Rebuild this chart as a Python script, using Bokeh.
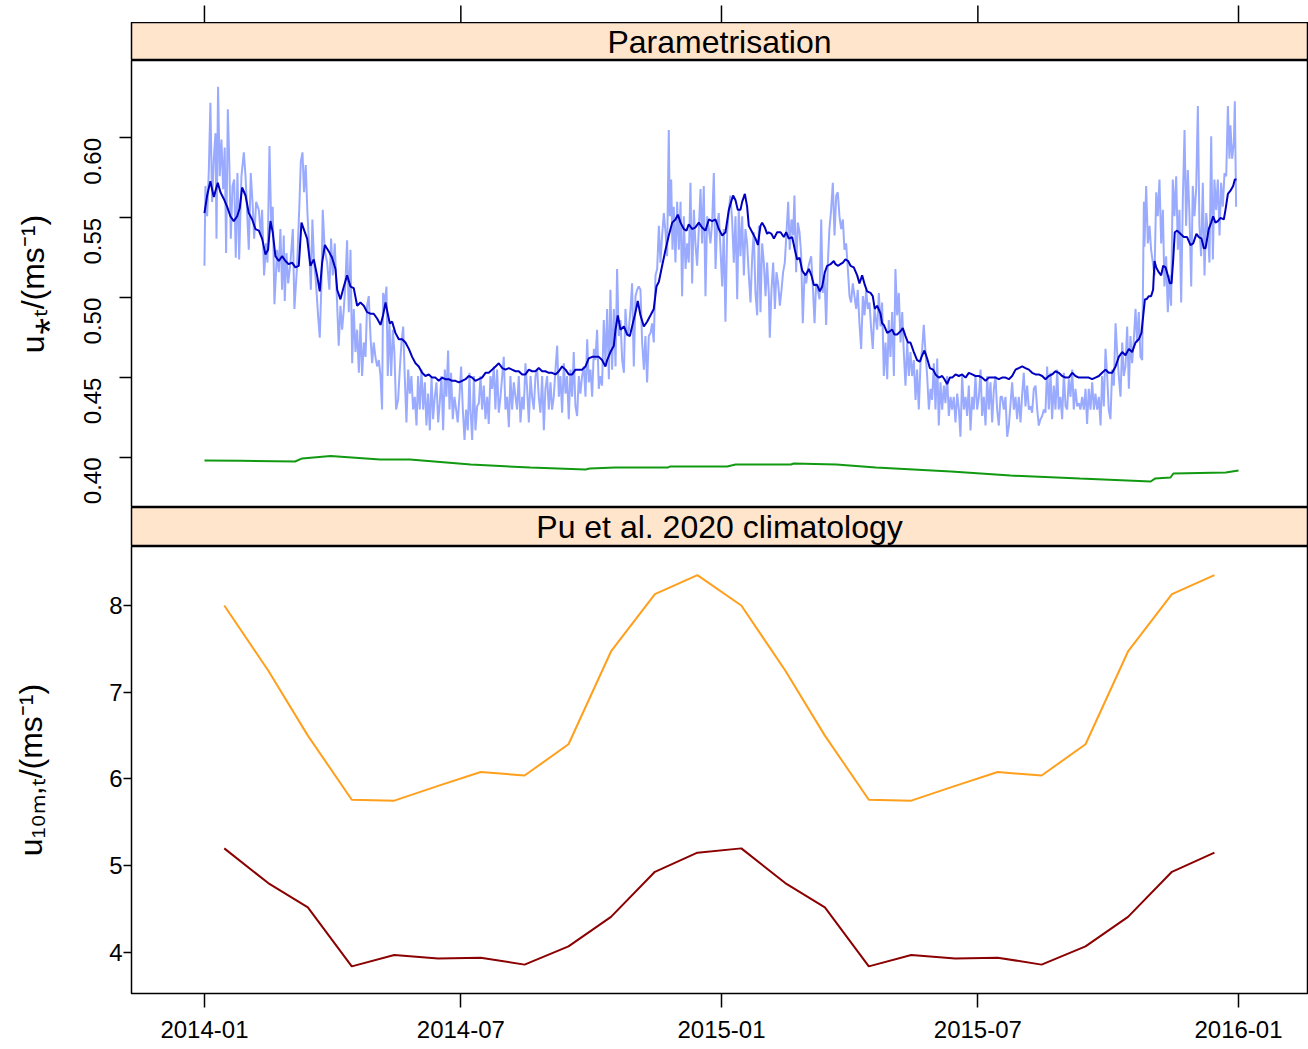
import math
import pandas as pd
from bokeh.plotting import figure
from bokeh.layouts import column
from bokeh.models import Range1d, FixedTicker, DatetimeTickFormatter, PrintfTickFormatter
from bokeh.core.properties import value
from bokeh.embed import file_html
from bokeh.resources import INLINE

# ---------------- data (days since 2014-01-01) ----------------
light_days = [
    0.0, 0.7, 1.9, 3.1, 4.2, 5.4, 6.6, 7.8, 8.5, 9.6, 10.8, 12.0, 13.2, 14.3, 15.3, 16.5, 17.6, 18.6, 19.8, 21.0,
    22.1, 23.3, 24.5, 26.1, 27.8, 29.0, 31.3, 32.7, 34.1, 35.1, 36.5, 38.4, 39.8, 40.7, 42.1, 43.5, 44.5, 45.9, 47.1, 48.2,
    49.4, 51.3, 52.5, 53.6, 54.8, 56.0, 56.7, 57.9, 59.1, 60.7, 62.4, 63.5, 65.4, 67.1, 68.0, 69.2, 70.3, 71.5, 72.7, 73.9,
    75.1, 76.2, 77.4, 78.6, 80.2, 81.4, 82.6, 83.5, 84.9, 86.6, 88.2, 89.4, 90.6, 92.0,
    94.8, 96.0, 97.2, 98.4, 99.5, 100.7, 101.9, 103.1, 104.3, 105.4, 106.6, 107.8, 109.0, 110.1, 111.3, 112.5, 113.7, 114.8, 116.0, 117.2,
    118.4, 119.5, 120.7, 121.9, 123.1, 124.3, 125.4, 126.1, 127.3, 128.5, 129.4, 130.6, 131.8, 133.0, 134.1, 135.3, 136.7, 137.9, 139.1, 140.3,
    141.4, 142.6, 143.8, 145.0, 146.1, 147.3, 148.5, 149.7, 150.8, 152.0, 153.2, 154.4, 155.6, 156.7, 157.9, 159.1, 160.3, 161.4, 162.6, 163.8,
    165.0, 166.1, 167.3, 168.5, 169.7, 170.8, 172.0, 173.0, 174.1, 175.3, 176.5, 177.7, 178.8, 180.0, 181.2, 182.4, 183.6, 184.7, 185.9, 187.1,
    187.8, 189.0, 190.2, 191.3, 192.5, 193.7, 194.9, 196.0, 197.2, 198.4, 199.6, 200.7, 201.9, 203.1, 204.3, 205.4, 206.6, 207.8, 209.0, 210.2,
    211.3, 212.5, 213.7, 214.9, 216.0, 217.2, 218.4, 219.6, 220.7, 221.9, 223.1, 224.3, 225.4, 226.6, 227.8, 229.0, 230.2, 231.3, 232.5, 233.7,
    234.9, 236.0, 237.2, 238.4, 239.6, 240.7, 241.9, 243.1, 244.3, 245.4, 246.6, 247.8, 249.0, 250.2, 251.3, 252.5, 253.7, 254.9, 256.0, 257.2,
    258.4, 259.6, 260.7, 261.9, 263.1, 264.3, 265.4, 266.6, 267.8, 269.0, 270.2, 271.3, 272.5, 273.7, 274.9, 276.0, 277.2, 278.4, 279.6, 280.7,
    281.9,
    283.1, 284.3, 285.5, 286.6, 287.8, 289.0, 290.2, 291.3, 292.5, 293.7, 294.9, 296.1, 297.2, 298.4, 299.6, 300.8, 301.9, 303.1, 304.3, 305.5,
    306.6, 307.8, 309.0, 310.2, 311.3, 312.5, 313.7, 314.9, 316.0, 317.2, 318.4, 319.6, 320.8, 321.9, 323.1, 324.3, 325.5, 326.6, 327.8, 328.5,
    329.5, 330.4, 331.3, 332.5, 333.7, 334.9, 336.1, 337.2, 338.4, 339.6, 340.8, 341.9, 343.1, 344.3, 345.5, 346.6, 347.8, 349.0, 350.2, 351.3,
    352.5, 353.7, 354.9, 356.1, 357.2, 358.4, 359.6, 360.8, 361.9, 363.1, 364.3, 365.5, 366.6, 367.8, 369.0, 370.2, 371.3, 372.5, 373.7, 374.9,
    376.1, 377.2,
    378.4, 379.6, 380.8, 381.9, 383.1, 384.3, 385.5, 386.7, 387.8, 389.0, 390.2, 391.4, 392.5, 393.7, 394.9, 396.1, 397.2, 398.4, 399.1, 400.3,
    401.5, 402.7, 403.8, 405.0, 406.2, 407.4, 408.5, 409.7, 410.9, 412.1, 413.2, 414.4, 415.6, 416.5, 417.7, 418.9, 420.1, 421.2, 422.4, 423.6,
    424.8, 426.0, 427.1, 428.3, 429.5, 430.7, 431.8, 433.0, 434.2, 435.4, 436.5, 437.7, 438.9, 440.1, 441.2, 442.4, 443.6, 444.8, 446.0, 447.1,
    448.3, 449.5, 450.7, 451.8, 453.0, 454.2, 455.4, 456.5, 457.7, 458.9, 460.1, 461.2, 462.4, 463.6, 464.8, 466.0, 467.1, 468.3, 469.5, 470.7,
    471.8, 473.0,
    474.9, 476.1, 477.3, 478.4, 479.6, 480.8, 482.0, 483.1, 484.3, 485.5, 486.7, 487.8, 489.0, 490.2, 491.4, 492.6, 493.7, 494.9, 496.1, 497.3,
    498.4, 499.6, 500.8, 502.0, 503.1, 504.3, 505.5, 506.7, 507.8, 509.0, 510.2, 511.4, 512.6, 513.7, 514.9, 516.1, 517.3, 518.4, 519.6, 520.8,
    522.0, 523.1, 524.3, 525.5, 526.7, 527.8, 529.0, 530.2, 531.4, 532.6, 533.7, 534.9, 536.1, 537.3, 538.4, 539.6, 540.8, 542.0, 543.1, 544.3,
    545.5, 546.7, 547.9, 549.0, 550.2, 551.4, 552.6, 553.7, 554.9, 556.1, 557.3, 558.4, 559.6, 560.8, 562.0, 563.1, 564.3, 565.5, 566.7, 567.9,
    570.2, 571.4, 572.6, 573.7, 574.9, 576.1, 577.3, 578.4, 579.6, 580.8, 582.0, 583.1, 584.3, 585.5, 586.7, 587.9, 589.0, 590.2, 591.4, 592.6,
    593.7, 594.9, 596.1, 597.3, 598.4, 599.6, 600.8, 602.0, 603.1, 604.3, 605.5, 606.7, 607.9, 609.0, 610.2, 611.4, 612.6, 613.7, 614.9, 616.1,
    617.3, 618.4, 619.6, 620.8, 622.0, 623.1, 624.3, 625.5, 626.7, 627.9, 629.0, 630.2, 631.4, 632.6, 633.7, 634.9, 636.1, 637.3, 638.4, 639.6,
    640.8, 642.0, 643.2, 644.3, 645.5, 646.7, 647.9, 649.0, 650.2, 651.4, 652.6, 653.7, 654.9, 656.1, 657.3, 658.4, 659.6, 660.8, 662.0, 663.2,
    663.6, 664.8, 666.0, 667.2, 668.3, 669.5, 670.7, 671.9, 673.0, 674.2, 675.4, 676.6, 677.7, 678.9, 680.1, 681.3, 682.4, 683.6, 684.8, 686.0,
    687.2, 688.3, 689.5, 690.7, 691.9, 693.0, 694.2, 695.4, 696.6, 697.7, 698.9, 700.1, 701.3, 702.4, 703.6, 704.8, 706.0, 707.2, 708.3, 709.5,
    710.7, 711.9, 713.0, 714.2, 715.4, 716.6, 717.7, 718.9, 720.1, 721.3, 722.5, 723.6, 724.3, 725.5, 726.7, 727.4, 728.3,
]
light_vals = [
    .520, .570, .551, .580, .622, .560, .587, .603, .537, .632, .576, .599, .568, .594, .528, .618, .583, .537, .570, .574,
    .525, .578, .524, .576, .591, .576, .530, .578, .557, .537, .560, .555, .539, .555, .514, .534, .522, .595, .547, .557,
    .496, .530, .516, .543, .505, .539, .498, .528, .509, .522, .543, .493, .520, .560, .585, .591, .566, .583, .553, .532,
    .505, .549, .522, .511, .489, .475, .509, .555, .530, .522, .505, .537, .514, .534,
    .470, .495, .480, .493, .509, .536, .491, .530, .459, .493, .466, .480, .453, .484, .451, .472, .463, .495, .501, .476,
    .459, .472, .463, .457, .461, .451, .430, .503, .497, .507, .451, .484, .451, .480, .466, .430, .436, .455, .472, .482,
    .451, .422, .455, .440, .451, .430, .438, .420, .451, .430, .455, .430, .447, .420, .440, .417, .451, .424, .438, .447,
    .422, .434, .451, .417, .455, .438, .467, .430, .453, .424, .438, .430, .422, .438, .457, .430, .411, .430, .417, .453,
    .430, .411, .451, .417, .432, .434, .451, .430, .445, .424, .438, .421, .451, .443, .457, .430, .455, .428, .438, .451,
    .463, .430, .438, .419, .451, .430, .447, .438, .430, .451, .422, .438, .430, .459, .443, .422, .451, .438, .430, .451,
    .455, .438, .428, .451, .417, .443, .451, .430, .447, .430, .438, .455, .470, .438, .451, .428, .459, .440, .451, .424,
    .455, .438, .466, .432, .426, .451, .440, .451, .457, .438, .474, .447, .455, .438, .468, .461, .480, .443, .451, .445,
    .486,
    .459, .493, .449, .505, .455, .493, .457, .518, .476, .486, .461, .453, .493, .476, .480, .493, .509, .457, .501, .505,
    .507, .505, .472, .455, .476, .447, .476, .478, .484, .472, .514, .518, .545, .522, .539, .553, .541, .526, .605, .551,
    .574, .530, .557, .522, .560, .530, .560, .501, .551, .518, .534, .522, .572, .509, .555, .534, .520, .543, .568, .534,
    .570, .501, .551, .543, .534, .547, .578, .518, .545, .553, .530, .507, .543, .485, .541, .555, .564, .549, .522, .551,
    .499, .555,
    .526, .551, .514, .543, .534, .514, .497, .526, .541, .503, .489, .545, .491, .534, .522, .501, .522, .503, .475, .505,
    .522, .493, .516, .509, .495, .505, .516, .522, .541, .560, .530, .549, .539, .564, .516, .547, .541, .528, .484, .514,
    .509, .518, .522, .526, .507, .484, .509, .505, .499, .549, .503, .514, .483, .522, .543, .555, .572, .539, .564, .566,
    .551, .543, .549, .530, .534, .518, .501, .497, .509, .501, .493, .505, .484, .468, .501, .489, .505, .493, .497, .480,
    .468, .493,
    .480, .503, .482, .497, .451, .472, .449, .486, .463, .491, .451, .518, .489, .503, .472, .491, .466, .445, .472, .451,
    .466, .451, .461, .436, .455, .430, .459, .468, .483, .466, .451, .430, .443, .436, .459, .430, .462, .420, .447, .430,
    .445, .434, .451, .426, .438, .430, .438, .422, .440, .430, .413, .451, .430, .438, .426, .445, .417, .438, .430, .451,
    .430, .438, .455, .426, .438, .420, .451, .430, .447, .422, .443, .451, .430, .420, .438, .438, .430, .438, .413, .420,
    .447, .430, .438, .424, .438, .422, .440, .453, .432, .445, .430, .432, .428, .443, .445, .430, .420, .424, .426, .430,
    .428, .457, .430, .453, .424, .445, .430, .455, .430, .438, .424, .453, .432, .430, .449, .438, .455, .430, .443, .432,
    .434, .430, .438, .430, .443, .421, .443, .430, .447, .430, .440, .430, .438, .420, .451, .432, .468, .451, .430, .424,
    .455, .445, .484, .466, .451, .438, .472, .451, .457, .482, .443, .476, .459, .474, .493, .472, .491, .463, .461, .560,
    .532, .570, .534, .545, .530, .522, .514, .566, .551, .574, .534, .555, .507, .526, .491, .514, .495, .574, .551, .576,
    .530, .555, .497, .562, .605, .545, .580, .551, .507, .570, .551, .568, .620, .545, .526, .572, .514, .553, .541, .522,
    .601, .524, .574, .555, .574, .539, .572, .557, .578, .576, .620, .587, .608, .587, .597, .623, .557,
]

smooth_days = [
    0.0, 1.9, 4.2, 6.6, 7.8, 9.4, 11.3, 13.6, 16.0, 18.3, 20.7, 23.1, 24.9, 26.6, 29.0, 31.3, 33.7, 36.0, 38.4, 40.7,
    43.1, 44.9, 46.6, 48.2, 50.1, 52.5, 54.8, 57.2, 59.5, 61.9, 64.2, 66.6, 68.5, 70.1, 72.5, 74.8, 77.2, 79.5, 81.4, 83.1,
    85.0, 87.8, 90.1, 92.5,
    93.7, 96.0, 98.4, 100.7, 103.1, 105.4, 107.8, 110.1, 112.5, 114.8, 117.2, 119.5, 121.9, 124.3, 126.1, 127.8, 129.4, 130.8, 132.5, 134.8,
    137.2, 139.6, 141.9, 144.3, 146.6, 149.0, 151.3, 153.7, 156.0, 158.4, 160.7, 163.1, 165.4, 167.8, 170.1, 172.5, 174.8, 177.2, 179.6, 181.9,
    184.3, 186.6,
    189.0, 191.3, 193.7, 196.0, 198.4, 200.7, 203.1, 205.5, 207.8, 210.2, 212.5, 214.9, 217.2, 219.6, 221.9, 224.3, 226.6, 229.0, 231.3, 233.7,
    236.0, 238.4, 240.7, 243.1, 245.4, 247.8, 250.2, 252.5, 254.9, 257.2, 259.6, 261.9, 264.3, 266.6, 269.0, 271.3, 273.7, 276.0, 278.4, 280.7,
    283.1,
    284.3, 286.6, 289.0, 290.2, 291.8, 293.7, 296.1, 298.4, 300.3, 301.9, 304.3, 305.9, 307.8, 310.2, 312.5, 314.9, 317.2, 319.1, 320.8, 323.1,
    325.5, 327.8, 330.2, 332.5, 334.2, 336.1, 338.4, 340.3, 341.9, 344.3, 346.6, 349.0, 351.3, 353.7, 356.1, 358.4, 360.8, 363.1, 365.5, 367.8,
    370.2, 371.8, 373.2, 374.9, 376.5, 378.4,
    379.6, 381.5, 383.1, 384.3, 386.7, 389.0, 390.7, 392.5, 393.7, 395.6, 397.2, 398.4, 400.3, 402.0, 404.3, 406.7, 409.0, 410.7, 412.5, 414.9,
    416.8, 418.4, 420.1, 422.0, 424.3, 426.7, 428.5, 430.2, 432.5, 434.4, 436.1, 438.0, 439.6, 442.0, 444.3, 445.5, 447.4, 449.0, 450.7, 452.5,
    454.4, 456.1, 458.4, 460.8, 462.4, 464.3, 466.2, 467.8, 470.2, 471.8, 473.2,
    474.9, 477.3, 478.4, 479.6, 482.0, 483.8, 485.5, 487.1, 489.0, 491.4, 493.0, 494.9, 496.6, 498.4, 500.8, 503.1, 505.0, 506.7, 508.3, 510.2,
    512.1, 514.4, 516.1, 518.4, 520.8, 522.4, 524.3, 526.2, 527.9, 530.2, 532.6, 534.9, 537.3, 539.6, 542.0, 544.3, 546.7, 549.0, 551.4, 553.7,
    556.1, 558.4, 560.8, 563.1, 565.5, 567.9,
    570.2, 572.6, 574.9, 577.3, 579.6, 582.0, 584.3, 586.7, 589.0, 591.4, 593.7, 596.1, 598.4, 600.8, 603.1, 605.5, 607.9, 610.2, 612.6, 614.9,
    617.3, 619.6, 622.0, 624.3, 626.7, 629.0, 631.4, 633.7, 636.1, 638.4, 640.8, 643.2, 645.5, 647.9, 650.2, 652.6, 654.9, 657.3, 659.6, 661.5,
    662.4, 663.9,
    665.0, 666.7, 668.3, 669.7, 670.7, 671.9, 673.7, 675.4, 676.8, 678.5, 680.1, 681.5, 682.7, 683.9, 685.0, 686.7, 689.0, 691.4, 693.7, 696.1,
    698.0, 700.3, 702.0, 703.9, 705.5, 706.7, 709.0, 710.7, 712.1, 713.7, 715.4, 717.3, 719.6, 720.8, 722.5, 724.3, 726.2, 727.4, 728.6,
]
smooth_vals = [
    .553, .564, .573, .563, .567, .572, .566, .562, .557, .551, .548, .551, .556, .569, .564, .553, .549, .543, .542, .537,
    .527, .530, .548, .541, .526, .523, .526, .523, .521, .522, .519, .520, .547, .543, .537, .520, .524, .514, .504, .522,
    .533, .529, .525, .518,
    .505, .499, .507, .514, .507, .506, .495, .497, .495, .491, .490, .490, .487, .483, .489, .497, .490, .484, .485, .478,
    .474, .474, .472, .468, .463, .459, .457, .453, .451, .452, .450, .450, .448, .450, .449, .449, .448, .448, .447, .448,
    .449, .451,
    .450, .448, .449, .450, .453, .453, .455, .457, .459, .456, .455, .456, .455, .454, .454, .452, .452, .455, .454, .454,
    .456, .454, .454, .453, .453, .452, .454, .457, .455, .452, .452, .455, .455, .455, .457, .462, .463, .463, .463, .461,
    .457,
    .461, .466, .470, .480, .489, .480, .482, .477, .476, .482, .491, .498, .489, .482, .485, .489, .493, .507, .510, .520,
    .530, .539, .547, .549, .552, .547, .543, .542, .546, .543, .544, .547, .544, .542, .549, .548, .549, .543, .539, .541,
    .555, .560, .564, .561, .555, .555,
    .560, .565, .557, .545, .541, .537, .533, .545, .547, .544, .540, .541, .540, .537, .541, .541, .538, .541, .537, .538,
    .530, .524, .525, .517, .514, .518, .514, .508, .508, .504, .507, .516, .520, .521, .523, .521, .520, .521, .522, .524,
    .523, .520, .519, .514, .509, .514, .508, .504, .503, .501, .493,
    .495, .490, .484, .483, .478, .479, .480, .477, .477, .479, .481, .476, .472, .472, .466, .461, .460, .464, .467, .462,
    .456, .455, .452, .450, .451, .449, .446, .450, .450, .452, .451, .452, .450, .453, .452, .451, .451, .450, .448, .450,
    .450, .450, .449, .450, .450, .449,
    .451, .455, .456, .457, .456, .455, .453, .452, .452, .451, .449, .451, .452, .454, .453, .451, .450, .450, .453, .451,
    .450, .450, .450, .450, .449, .450, .451, .453, .455, .453, .453, .457, .463, .466, .464, .468, .466, .472, .474, .478,
    .486, .499,
    .499, .501, .501, .505, .523, .519, .516, .514, .520, .519, .514, .509, .509, .524, .541, .542, .540, .538, .538, .533,
    .534, .540, .538, .537, .531, .531, .543, .547, .551, .547, .548, .550, .549, .555, .565, .567, .570, .574, .574,
]

green_days = [0, 25.4, 64, 69, 89, 124, 145, 188, 230, 269, 272, 290, 327, 329, 369, 375, 414, 416, 446, 474,
              527, 569, 618, 668, 671, 682, 684, 721, 730]
green_vals = [.3981, .3980, .3975, .3994, .4010, .3987, .3987, .3956, .3937, .3925, .3931, .3937, .3937, .3944, .3944,
              .3956, .3956, .3962, .3956, .3937, .3912, .3887, .3868, .3850, .3868, .3875, .3900, .3906, .3918]

clim_months = ["2014-01-15", "2014-02-15", "2014-03-15", "2014-04-15", "2014-05-15", "2014-06-15",
               "2014-07-15", "2014-08-15", "2014-09-15", "2014-10-15", "2014-11-15", "2014-12-15",
               "2015-01-15", "2015-02-15", "2015-03-15", "2015-04-15", "2015-05-15", "2015-06-15",
               "2015-07-15", "2015-08-15", "2015-09-15", "2015-10-15", "2015-11-15", "2015-12-15"]
clim_upper = [8.00, 7.25, 6.50, 5.76, 5.75, 5.92, 6.08, 6.04, 6.40, 7.47, 8.13, 8.35,
              8.00, 7.25, 6.50, 5.76, 5.75, 5.92, 6.08, 6.04, 6.40, 7.47, 8.13, 8.35]
clim_lower = [5.20, 4.80, 4.52, 3.84, 3.97, 3.93, 3.94, 3.86, 4.07, 4.41, 4.93, 5.15,
              5.20, 4.80, 4.52, 3.84, 3.97, 3.93, 3.94, 3.86, 4.07, 4.41, 4.93, 5.15]

x_tick_dates = ["2014-01-01", "2014-07-01", "2015-01-01", "2015-07-01", "2016-01-01"]
top_ticks = [0.40, 0.45, 0.50, 0.55, 0.60]
bottom_ticks = [4, 5, 6, 7, 8]
strip_titles = ["Parametrisation", "Pu et al. 2020 climatology"]

# ---------------- helpers ----------------
T0 = pd.Timestamp("2014-01-01")
EPOCH = pd.Timestamp("1970-01-01")


def ms_from_days(days):
    idx = T0 + pd.to_timedelta(list(days), unit="D")
    return list((idx - EPOCH) / pd.Timedelta(milliseconds=1))


def ms_from_dates(dates):
    idx = pd.DatetimeIndex(pd.to_datetime(dates))
    return list((idx - EPOCH) / pd.Timedelta(milliseconds=1))


FONT = "Liberation Sans"
W = 1308
LEFT = 131
RIGHT = 1

x_range = Range1d(start=ms_from_days([-51.5])[0], end=ms_from_days([778.7])[0])
strip_x = ms_from_days([363.6])[0]
tick_x = ms_from_dates(x_tick_dates)
fmt = DatetimeTickFormatter(days="%Y-%m", months="%Y-%m", years="%Y-%m")


def make_fig(height, y_range, bottom=0, yaxis=False, xaxis=False, outline=True):
    p = figure(width=W, height=height, x_range=x_range, y_range=y_range, x_axis_type="datetime",
               x_axis_location="below" if xaxis else None,
               y_axis_location="left" if yaxis else None,
               toolbar_location=None, output_backend="svg", title=None,
               min_border_left=LEFT, min_border_right=RIGHT, min_border_top=0, min_border_bottom=bottom)
    p.grid.visible = False
    p.outline_line_color = "black" if outline else None
    p.outline_line_width = 1.5
    p.background_fill_color = "white"
    p.border_fill_color = "white"
    return p


def style_axis(ax, size="24px"):
    ax.major_tick_in = 0
    ax.major_tick_out = 12
    ax.minor_tick_in = 0
    ax.minor_tick_out = 0
    ax.axis_line_color = None
    ax.major_tick_line_color = "black"
    ax.major_tick_line_width = 1.5
    ax.major_label_text_font = FONT
    ax.major_label_text_font_size = size
    ax.major_label_text_color = "black"


def make_strip(height, title):
    s = make_fig(height, Range1d(0, 1))
    s.background_fill_color = "#FFE5CC"
    s.text(x=[strip_x], y=[0.5], text=[title], text_font=value(FONT), text_font_size="32px",
           text_align="center", text_baseline="middle", text_color="black")
    return s


# ---------------- top tick marks (above the first strip) ----------------
t0 = make_fig(22, Range1d(0, 22 / 17), outline=False)
t0.segment(x0=tick_x, y0=[0] * len(tick_x), x1=tick_x, y1=[1] * len(tick_x),
           line_color="black", line_width=1.5)

# ---------------- strip 1 ----------------
s1 = make_strip(38, strip_titles[0])

# ---------------- panel 1 ----------------
p1 = make_fig(447, Range1d(0.3687, 0.6485), yaxis=True)
p1.line(ms_from_days(light_days), light_vals, line_color="#9aabff", line_width=2)
p1.line(ms_from_days(smooth_days), smooth_vals, line_color="#0000c0", line_width=2)
p1.line(ms_from_days(green_days), green_vals, line_color="#119911", line_width=2)
ya1 = p1.yaxis[0]
style_axis(ya1)
ya1.ticker = FixedTicker(ticks=top_ticks)
ya1.formatter = PrintfTickFormatter(format="%.2f")
ya1.major_label_orientation = math.pi / 2
ya1.major_label_standoff = 27
ya1.axis_label = "u⁎ₜ/(ms⁻¹)"
ya1.axis_label_text_font = FONT
ya1.axis_label_text_font_size = "32px"
ya1.axis_label_text_font_style = "normal"
ya1.axis_label_text_color = "black"
ya1.axis_label_standoff = 22

# ---------------- strip 2 ----------------
s2 = make_strip(39, strip_titles[1])

# ---------------- panel 2 ----------------
p2 = make_fig(503, Range1d(3.527, 8.68), bottom=56, yaxis=True, xaxis=True)
clim_x = ms_from_dates(clim_months)
p2.line(clim_x, clim_upper, line_color="#ff9f1c", line_width=2)
p2.line(clim_x, clim_lower, line_color="#8b0000", line_width=2)
ya2 = p2.yaxis[0]
style_axis(ya2)
ya2.ticker = FixedTicker(ticks=bottom_ticks)
ya2.major_label_orientation = "horizontal"
ya2.major_tick_out = 8
ya2.major_label_standoff = 1
ya2.axis_label = "u₁₀ₘ,ₜ/(ms⁻¹)"
ya2.axis_label_text_font = FONT
ya2.axis_label_text_font_size = "32px"
ya2.axis_label_text_font_style = "normal"
ya2.axis_label_text_color = "black"
ya2.axis_label_standoff = 57
xa2 = p2.xaxis[0]
style_axis(xa2)
xa2.ticker = FixedTicker(ticks=tick_x)
xa2.formatter = fmt
xa2.major_tick_out = 14
xa2.major_label_standoff = 13

layout = column(t0, s1, p1, s2, p2, spacing=0)
open("out.html", "w").write(file_html(layout, INLINE))
